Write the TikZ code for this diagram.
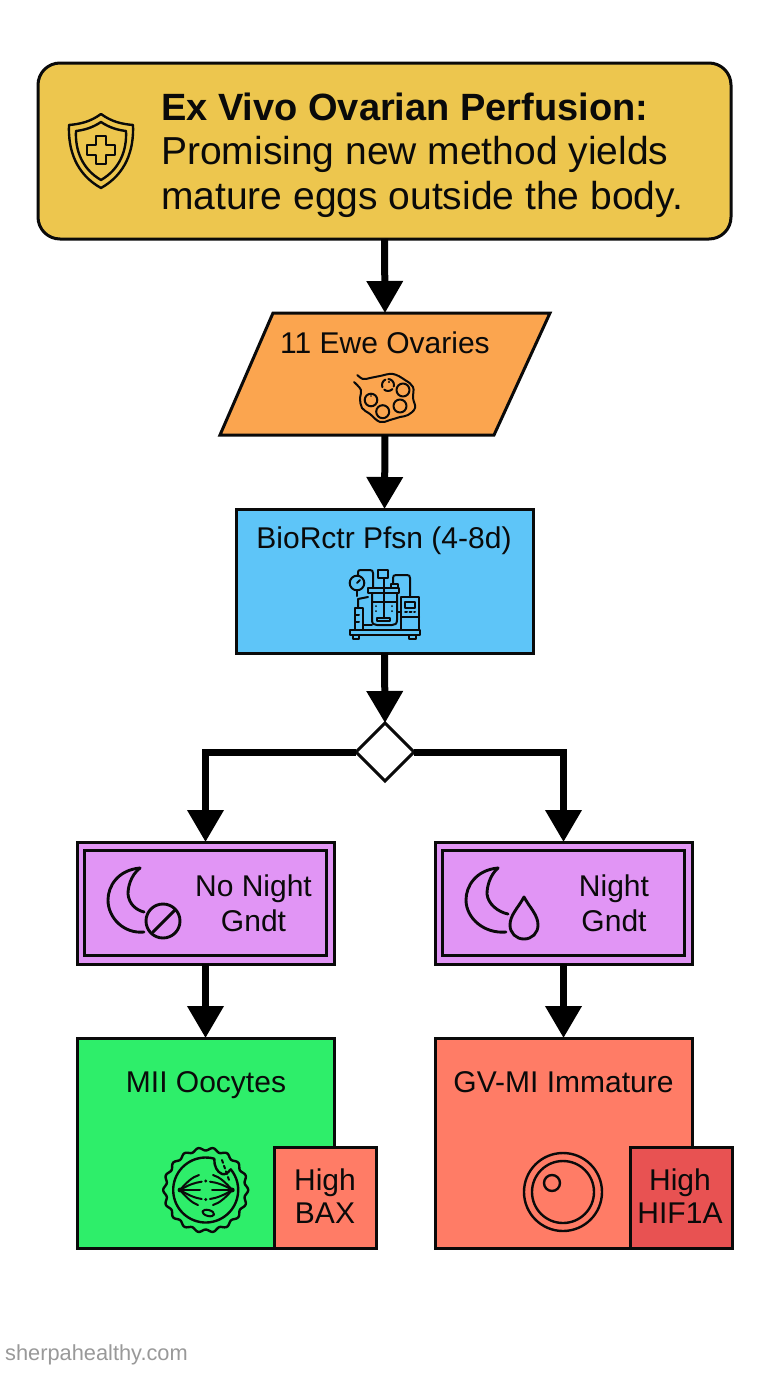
\documentclass[tikz,border=0pt]{standalone}
\usepackage{fontspec}
\setmainfont{Liberation Sans}
\usetikzlibrary{arrows.meta,shapes.geometric}
\definecolor{ink}{HTML}{0A0A0A}
\definecolor{gold}{HTML}{EDC64E}
\definecolor{amber}{HTML}{FBA54F}
\definecolor{sky}{HTML}{5EC5F8}
\definecolor{lilac}{HTML}{E195F5}
\definecolor{mint}{HTML}{2EEE6A}
\definecolor{coral}{HTML}{FF7C66}
\definecolor{crimson}{HTML}{E85252}
\tikzset{
  box/.style={draw=ink,line width=3pt,rectangle,inner sep=0pt,outer sep=0pt},
  flow/.style={draw=black,line width=7pt,-{Triangle[width=35pt,length=32pt]}},
  label30/.style={text=ink,font=\fontsize{30}{35}\selectfont,align=center,inner sep=0pt,outer sep=0pt},
  badge30/.style={text=ink,font=\fontsize{30}{33}\selectfont,align=center,inner sep=0pt,outer sep=0pt},
  icon/.style={draw=ink,line width=2.4pt,line cap=round,line join=round,fill=none},
  moon icon/.style={draw=ink,line width=2.9pt,line cap=round,line join=round,fill=none},
  thin icon/.style={draw=ink,line width=2pt,line cap=round,line join=round,fill=none}
}
\begin{document}
\begin{tikzpicture}[x=1pt,y=-1pt]
\useasboundingbox (0,0) rectangle (768,1376);
\fill[white] (0,0) rectangle (768,1376);

% boxes
\node[box,fill=gold,rounded corners=22pt,minimum width=693pt,minimum height=176pt] (head) at (384.5,151) {};
\node[rectangle,inner sep=0pt,outer sep=0pt,minimum width=330pt,minimum height=122pt] (ovaries) at (385,374) {};
\draw[draw=ink,line width=3pt,fill=amber,line join=miter] (273,313) -- (550,313) -- (494,435) -- (220,435) -- cycle;
\node[box,fill=sky,minimum width=297pt,minimum height=144pt] (bio) at (384.5,581) {};
\node[draw=ink,line width=3pt,fill=white,diamond,minimum width=58pt,minimum height=58pt,inner sep=0pt,outer sep=0pt] (gate) at (385,752) {};
\node[box,fill=lilac,minimum width=257pt,minimum height=122pt] (nonight) at (205.5,903) {};
\node[box,fill=lilac,minimum width=257pt,minimum height=122pt] (night) at (563.5,903) {};
\node[box,minimum width=242pt,minimum height=105pt] (nonightin) at (205.5,903) {};
\node[box,minimum width=242pt,minimum height=105pt] (nightin) at (563.5,903) {};
\node[box,fill=mint,minimum width=257pt,minimum height=210pt] (mii) at (205.5,1143) {};
\node[box,fill=coral,minimum width=257pt,minimum height=210pt] (gv) at (563.5,1143) {};
\node[box,fill=coral,minimum width=102pt,minimum height=101pt] (bax) at (325,1197.5) {};
\node[box,fill=crimson,minimum width=102pt,minimum height=101pt] (hif) at (681,1197.5) {};

% connectors
\draw[flow] (head.south) -- (ovaries.north);
\draw[flow] (ovaries.south) -- (bio.north);
\draw[flow] (bio.south) -- (gate.north);
\draw[flow] (gate.west) -| (nonight.north);
\draw[flow] (gate.east) -| (night.north);
\draw[flow] (nonight.south) -- (mii.north);
\draw[flow] (night.south) -- (gv.north);

% texts
\node[text=ink,anchor=west,align=left,inner sep=0pt,font=\fontsize{39}{44.5}\selectfont] (headtxt) at (161,155) {\textbf{\fontsize{38}{44.5}\selectfont Ex Vivo Ovarian Perfusion:}\\Promising new method yields\\mature eggs outside the body.};
\node[label30] (t1) at (385,343) {11 Ewe Ovaries};
\node[label30] (t2) at (384,541) {BioRctr Pfsn (4-8d)};
\node[label30] (t3) at (253.5,903) {No Night\\Gndt};
\node[label30] (t4) at (614,903) {Night\\Gndt};
\node[label30] (t5) at (206,1085) {MII Oocytes};
\node[label30] (t6) at (563.5,1082) {GV-MI Immature};
\node[badge30] (t7) at (325,1196) {High\\BAX};
\node[badge30] (t8) at (680,1196) {High\\HIF1A};
\node[text=gray!80,anchor=west,inner sep=0pt,font=\fontsize{21.8}{26}\selectfont] (mark) at (5,1355) {sherpahealthy.com};

% shield
\draw[icon] (101,114) .. controls (112,122) and (122,124) .. (133,125) .. controls (134,150) and (126,174) .. (101,188) .. controls (76,174) and (68,150) .. (69,125) .. controls (80,124) and (90,122) .. (101,114) -- cycle;
\draw[icon] (101,122) .. controls (110,128) and (118,130) .. (126,131) .. controls (127,150) and (120,169) .. (101,180) .. controls (82,169) and (75,150) .. (76,131) .. controls (84,130) and (92,128) .. (101,122) -- cycle;
\draw[icon] (96,136) -- (106,136) -- (106,145) -- (115,145) -- (115,155) -- (106,155) -- (106,164) -- (96,164) -- (96,155) -- (87,155) -- (87,145) -- (96,145) -- cycle;

% ovary
\draw[thin icon] plot[smooth,tension=.65] coordinates {(357.3,375) (363,379) (370,378) (380,376) (393,374) (405,380) (413,387) (413,398) (415,408) (408,415) (400,417) (390,420) (380,422) (370,414) (362,408) (360,398) (361,390) (354,382)};
\draw[thin icon] (371,400) circle (6.3pt);
\draw[thin icon] (382.7,411.7) circle (6.5pt);
\draw[thin icon] (400,406) circle (6.5pt);
\draw[thin icon] (403,390) circle (6.5pt);
\draw[thin icon,dash pattern=on 9pt off 3pt] (388,385) circle (6pt);
\fill[ink] (389,382) circle (1.2pt) (371,396) circle (.8pt);

% bioreactor
\draw[thin icon] (350,630) rectangle (420,635);
\draw[thin icon] (353,635) rectangle (359,639);
\draw[thin icon] (409,635) rectangle (416,639);
\draw[thin icon] (368,588) rectangle (399,593);
\draw[thin icon] (372,593) -- (372,620) .. controls (372,624) and (374,625) .. (377,625) -- (392,625) .. controls (395,625) and (397,624) .. (397,620) -- (397,593);
\draw[thin icon] (372,602) -- (397,602);
\draw[thin icon] (384,578) -- (384,618);
\draw[thin icon] (377,618) rectangle (390,621);
\draw[thin icon] (378,570) rectangle (388,578);
\draw[thin icon] (391,584) rectangle (398,588);
\draw[thin icon] (357,583) circle (7.3pt);
\draw[thin icon] (357,583) -- (360,580);
\draw[thin icon] (358,575.7) -- (358,572) .. controls (358,570.5) and (359,570) .. (361,570) -- (370,570) .. controls (372,570) and (373,571) .. (373,573) -- (373,588);
\draw[thin icon] (393,584) -- (393,578) .. controls (393,576) and (394,575) .. (396,575) -- (407,575) .. controls (409,575) and (410,576) .. (410,578) -- (410,597);
\draw[thin icon] (401,597) rectangle (419,630);
\draw[thin icon] (405,602) rectangle (415,608);
\draw[thin icon] (401,617) -- (419,617);
\draw[thin icon,dash pattern=on 2pt off 2.5pt] (405,612) -- (415,612);
\draw[thin icon] (355,608) rectangle (363,630);
\draw[thin icon] (355,615) -- (359,615);
\draw[thin icon] (355,622) -- (359,622);
\draw[thin icon] (358,608) -- (358,599) -- (368,597);
\draw[thin icon] (357,590.3) -- (357,596);
\draw[thin icon] (363,625) -- (372,625);
\draw[thin icon] (397,612) -- (401,612);
\fill[ink] (376,606) circle (1pt) (376,611) circle (1pt) (392,606) circle (1pt) (392,611) circle (1pt);

% moon with prohibition
\draw[moon icon] (140,868) .. controls (118,870) and (108,886) .. (108,900) .. controls (108,918) and (124,934) .. (144,932);
\draw[moon icon] (140,868) .. controls (130,876) and (128,888) .. (128,894) .. controls (129,904) and (136,910) .. (144,912);
\draw[moon icon] (163,921) circle (17pt);
\draw[moon icon] (153,932) -- (175,910);

% moon with drop
\draw[moon icon] (498,868) .. controls (476,870) and (466,886) .. (466,900) .. controls (466,918) and (484,934) .. (506,932);
\draw[moon icon] (498,868) .. controls (489,876) and (487,888) .. (487,894) .. controls (488,904) and (498,912) .. (508,914);
\draw[moon icon] (524,897) .. controls (530,908) and (538,915) .. (538,925) .. controls (538,933) and (532,939) .. (524,939) .. controls (516,939) and (510,933) .. (510,925) .. controls (510,915) and (518,908) .. (524,897) -- cycle;

% mature oocyte
\draw[icon] plot[domain=0:360,samples=200,smooth] ({205.7+(41+1.5*cos(18*\x))*cos(\x)},{1190+(41+1.5*cos(18*\x))*sin(\x)}) -- cycle;
\draw[icon] (205.7,1190) ++(-75:32.5) arc (-75:-400:32.5);
\draw[icon] (214.3,1159) .. controls (214,1166) and (217,1172) .. (222,1174) .. controls (225,1175) and (228,1173) .. (230,1170);
\draw[thin icon,dash pattern=on 3pt off 3pt] (222,1160) -- (229,1180);
\draw[thin icon] (180,1190) .. controls (186,1183) and (192,1177) .. (199,1175);
\draw[thin icon] (232.3,1190) .. controls (226,1183) and (220,1177) .. (213,1175);
\draw[thin icon] (180,1190) .. controls (188,1185) and (195,1182.5) .. (201.7,1181.7);
\draw[thin icon] (232.3,1190) .. controls (224,1185) and (217,1182.5) .. (210,1181.7);
\draw[thin icon] (180,1190) -- (200,1190);
\draw[thin icon] (212,1190) -- (232.3,1190);
\draw[thin icon] (180,1190) .. controls (188,1195) and (195,1198) .. (201.7,1199);
\draw[thin icon] (232.3,1190) .. controls (224,1195) and (217,1198) .. (210,1199);
\draw[thin icon] (180,1190) .. controls (186,1197) and (192,1203) .. (198,1205);
\draw[thin icon] (232.3,1190) .. controls (226,1197) and (220,1203) .. (213,1205);
\fill[ink] (180,1190) circle (2.4pt) (232.3,1190) circle (2.4pt) (205.7,1181) circle (1.6pt) (205.7,1199.5) circle (1.6pt);
\draw[thin icon,rotate around={-15:(208.3,1213)}] (208.3,1213) ellipse (6pt and 3pt);

% immature oocyte
\draw[icon] (563,1192) circle (39pt);
\draw[icon] (563,1192) circle (31pt);
\draw[icon] (552,1183) circle (8pt);
\end{tikzpicture}
\end{document}
